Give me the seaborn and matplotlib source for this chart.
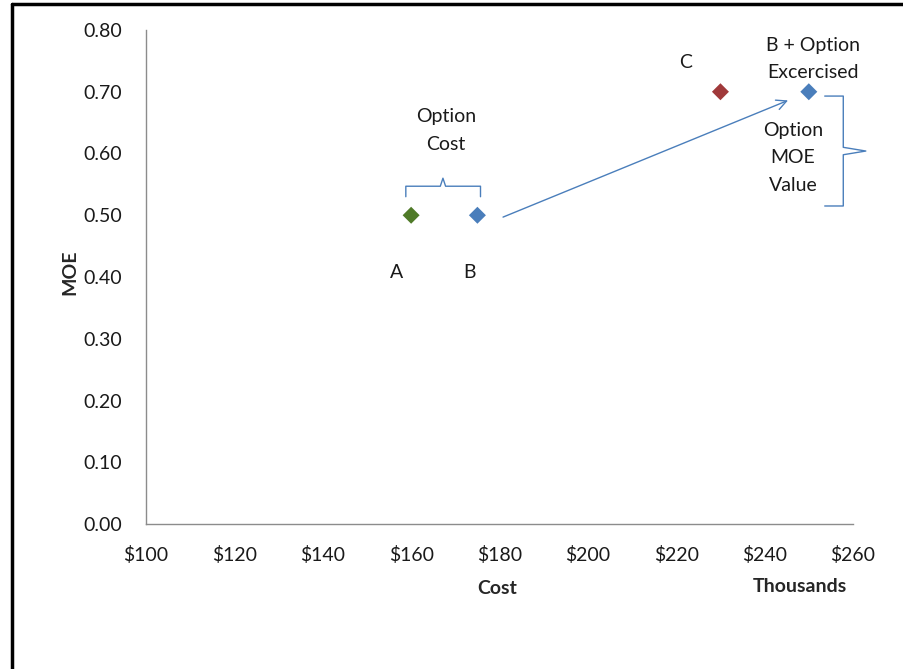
import matplotlib
matplotlib.use("Agg")
import matplotlib.pyplot as plt
import seaborn as sns
import pandas as pd
from matplotlib.lines import Line2D

# ---- data ----
labels = ["A", "B", "C", "B + Option Excercised"]
cost = [160, 175, 230, 250]          # thousands of dollars
moe = [0.50, 0.50, 0.70, 0.70]
colors = ["#4F7A28", "#4A7EBB", "#A0393A", "#4A7EBB"]
x_ticks = [100, 120, 140, 160, 180, 200, 220, 240, 260]
x_tick_labels = ["$100", "$120", "$140", "$160", "$180", "$200", "$220", "$240", "$260"]
y_ticks = [0.0, 0.1, 0.2, 0.3, 0.4, 0.5, 0.6, 0.7, 0.8]

df = pd.DataFrame({"label": labels, "cost": cost, "moe": moe})

sns.set_theme(style="white")
plt.rcParams["font.family"] = ["Lato", "DejaVu Sans"]

FS = 14

fig = plt.figure(figsize=(9.04, 6.69), dpi=100)
ax = fig.add_axes([146 / 904, 1 - 524 / 669, (853 - 146) / 904, (524 - 30) / 669])

sns.scatterplot(data=df, x="cost", y="moe", hue="label",
                palette=dict(zip(labels, colors)), marker="D", s=75,
                edgecolor="none", legend=False, ax=ax, zorder=3)

ax.set_xlim(100, 260)
ax.set_ylim(0, 0.8)
ax.set_xticks(x_ticks)
ax.set_xticklabels(x_tick_labels)
ax.set_yticks(y_ticks)
ax.set_yticklabels([f"{v:.2f}" for v in y_ticks])
ax.tick_params(axis="both", length=0, labelsize=FS, colors="#1a1a1a")
ax.tick_params(axis="y", pad=17)
ax.tick_params(axis="x", pad=16)
ax.set_xlabel("")
ax.set_ylabel("")
for side in ["top", "right"]:
    ax.spines[side].set_visible(False)
for side in ["left", "bottom"]:
    ax.spines[side].set_color("#8C8C8C")
    ax.spines[side].set_linewidth(1.0)

fig.text(70 / 904, 1 - 272 / 669, "MOE", rotation=90, ha="center", va="center",
         fontsize=FS, fontweight="bold")
fig.text(497 / 904, 1 - 588 / 669, "Cost", ha="center", va="center",
         fontsize=FS, fontweight="bold")
fig.text(800 / 904, 1 - 587 / 669, "Thousands", ha="center", va="center",
         fontsize=FS, fontweight="bold")

brace_c = "#4A7EBB"
txt_kw = dict(ha="center", va="center", fontsize=FS, color="#1a1a1a", linespacing=1.75)

# point labels
ax.text(cost[0] - 3.2, 0.408, "A", **txt_kw)
ax.text(cost[1] - 1.7, 0.408, "B", **txt_kw)
ax.text(cost[2] - 8.0, 0.748, "C", **txt_kw)
ax.text(cost[3] + 0.9, 0.753, "B + Option\nExcercised", **txt_kw)
ax.text(167.9, 0.637, "Option\nCost", **txt_kw)
ax.text(246.4, 0.593, "Option\nMOE\nValue", **txt_kw)

# arrow from B to exercised option
ax.annotate("", xy=(cost[3] - 4.7, moe[3] - 0.014), xytext=(cost[1] + 5.8, moe[1] - 0.003),
            arrowprops=dict(arrowstyle="->", color=brace_c, lw=1.0,
                            mutation_scale=18, shrinkA=0, shrinkB=0))

# horizontal brace (option cost)
bx0, bx1, bxm = 158.8, 175.7, 167.2
by0, by1, bytip = 0.530, 0.547, 0.560
ax.plot([bx0, bx0, bxm - 0.6, bxm, bxm + 0.6, bx1, bx1],
        [by0, by1, by1, bytip, by1, by1, by0], color=brace_c, lw=1.0, clip_on=False)

# vertical brace (option MOE value)
rx0, rx1, rxtip = 253.6, 257.8, 262.9
ry0, ry1, rym = 0.515, 0.693, 0.604
ax.plot([rx0, rx1, rx1, rxtip, rx1, rx1, rx0],
        [ry1, ry1, rym + 0.006, rym, rym - 0.006, ry0, ry0],
        color=brace_c, lw=1.0, clip_on=False)

# outer frame (left and top only, as in the cropped screenshot)
fig.add_artist(Line2D([12 / 904, 12 / 904], [0, 1 - 4 / 669], transform=fig.transFigure,
                      color="black", lw=2.5))
fig.add_artist(Line2D([12 / 904, 1], [1 - 4 / 669, 1 - 4 / 669], transform=fig.transFigure,
                      color="black", lw=2.5))

fig.savefig("out.png", dpi=100, facecolor="white")
